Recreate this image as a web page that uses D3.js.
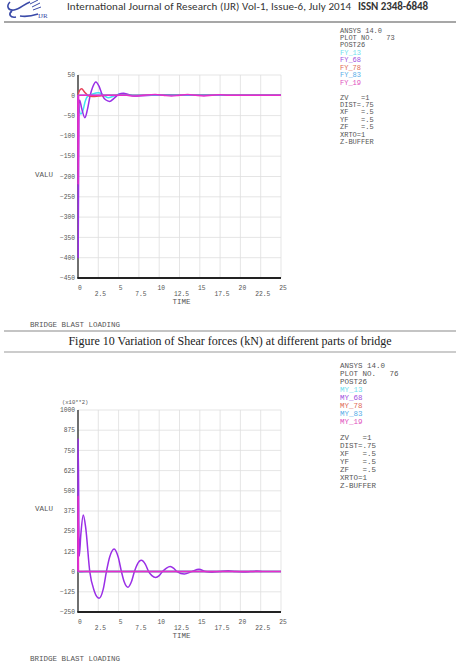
<!DOCTYPE html>
<html>
<head>
<meta charset="utf-8">
<script src="https://cdn.jsdelivr.net/npm/d3@7"></script>
<style>
  body { margin: 0; background: #fff; }
  text { font-family: 'Liberation Mono', monospace; fill: #555; }
</style>
</head>
<body>
<script>
// Tick values
const timeTicks = [0, 2.5, 5, 7.5, 10, 12.5, 15, 17.5, 20, 22.5, 25]
const shearTicks = [50, 0, -50, -100, -150, -200, -250, -300, -350, -400, -450]
const momentTicks = [1000, 875, 750, 625, 500, 375, 250, 125, 0, -125, -250]

const shearNames = ['FY_13', 'FY_68', 'FY_78', 'FY_83', 'FY_19']
const momentNames = ['MY_13', 'MY_68', 'MY_78', 'MY_83', 'MY_19']
const lineColors = ['#3fe3f2', '#9a2ee6', '#e8405a', '#4aa6ee', '#e82ccc']
const labelColors = ['#6fe0ee', '#a050e0', '#e06a58', '#58aee8', '#e050c0']

const infoTop = ['ANSYS 14.0']
const infoBottom = ['', 'ZV   =1', 'DIST=.75', 'XF   =.5', 'YF   =.5', 'ZF   =.5', 'XRTO=1', 'Z-BUFFER']

// Shear force series, [time, value]
const fy13 = [[0, 0], [0.1, -28], [0.35, -46], [0.6, -38], [0.9, -14], [1.2, -2], [1.8, 3], [2.5, 6], [3.1, 1], [3.7, -6], [4.4, -2], [5.3, 4], [6.2, 1], [7, -1], [8, 0], [25, 0]]
const fy68 = [[0, 0], [0.02, -400], [0.12, -14], [0.2, -12], [0.45, -32], [0.85, -55], [1.15, -36], [1.5, 0], [1.8, 20], [2.2, 33], [2.6, 22], [3.0, 0], [3.4, -11], [3.9, -15], [4.4, -8], [5.0, 2], [5.6, 5], [6.2, 2], [7, -2], [8, -1], [9, 0], [10.5, 1], [12, 0], [25, 0]]
const fy78 = [[0, 0], [0.2, 12], [0.45, 16], [0.8, 8], [1.2, 0], [1.8, -3], [2.5, -2], [3.5, 0], [25, 0]]
const fy83 = [[0, 0], [25, 0]]
const fy19 = [[0, 0], [0.02, -220], [0.08, 0], [6, 0], [6.8, -2], [8, 0], [9.5, 2], [10.5, 0], [11.5, -2], [12.5, 0], [13.5, 2], [14.5, 0], [15.5, -1.5], [16.5, 0], [17.5, 1.5], [18.5, 0], [25, 0]]
const shearSeries = [fy13, fy68, fy78, fy83, fy19]

// Bending moment series (x10**2), [time, value]
const my13 = [[0, 0], [0.3, -3], [1, 0], [25, 0]]
const my68 = [[0, 0], [0.02, 823], [0.15, 95], [0.35, 230], [0.65, 350], [0.95, 270], [1.45, 0], [2.0, -120], [2.6, -165], [3.1, -110], [3.5, 0], [3.9, 90], [4.45, 140], [4.95, 90], [5.35, 0], [5.7, -65], [6.15, -97], [6.6, -60], [6.95, 0], [7.3, 45], [7.8, 70], [8.3, 45], [8.7, 0], [9.1, -25], [9.55, -37], [10.0, -25], [10.4, 0], [10.9, 22], [11.35, 31], [11.8, 20], [12.2, 0], [13.1, -15], [14, 0], [14.9, 14], [15.7, 0], [16.5, -4], [17.4, 0], [18.5, 5], [19.4, 0], [20.3, -2], [21.2, 0], [22, 3], [22.6, 1]]
const my78 = [[0, 0], [25, 0]]
const my83 = [[0, 0], [25, 0]]
const my19 = [[0, 0], [0.02, 470], [0.06, 0], [25, 0]]
const momentSeries = [my13, my68, my78, my83, my19]

const width = 460
const height = 662

const svg = d3
  .select('body')
  .append('svg')
  .attr('width', width)
  .attr('height', height)

// Journal header
svg
  .append('text')
  .attr('x', 67)
  .attr('y', 10)
  .attr('textLength', 284)
  .style('font-family', 'Carlito, "Liberation Sans", sans-serif')
  .style('font-size', '11px')
  .style('fill', '#333')
  .text('International Journal of Research (IJR)   Vol-1, Issue-6, July 2014')
svg
  .append('text')
  .attr('x', 358)
  .attr('y', 10)
  .attr('textLength', 70)
  .style('font-family', 'Carlito, "Liberation Sans", sans-serif')
  .style('font-size', '11px')
  .style('font-weight', 'bold')
  .style('fill', '#333')
  .text('ISSN 2348-6848')

// rough logo
const logo = svg.append('g').attr('stroke', '#3a4aa8').attr('fill', 'none').attr('stroke-width', 1.6)
logo.append('path').attr('d', 'M10,2 C6,6 8,11 14,10 C20,9 24,4 30,2')
logo.append('path').attr('d', 'M12,11 C8,14 10,18 16,17')
logo.append('path').attr('d', 'M20,16 C26,17 32,16 38,14')
logo.append('path').attr('d', 'M30,4 L38,0 M32,7 L40,3 M33,10 L41,7').attr('stroke-width', 1)
svg
  .append('text')
  .attr('x', 38)
  .attr('y', 18)
  .style('font-family', '"Liberation Serif", serif')
  .style('font-size', '7px')
  .style('fill', '#3a4aa8')
  .text('IJR')

svg.append('line').attr('x1', 4).attr('x2', 456).attr('y1', 22).attr('y2', 22).attr('stroke', '#8a8a8a').attr('stroke-width', 1.5)

function drawPlot(opts) {
  const g = svg.append('g')
  const x = d3.scaleLinear().domain([0, 25]).range([78, 281])
  const y = d3
    .scaleLinear()
    .domain([opts.ticks[opts.ticks.length - 1], opts.ticks[0]])
    .range([opts.bottom, opts.top])

  // grid
  g.append('g')
    .selectAll('line')
    .data(timeTicks.slice(1))
    .join('line')
    .attr('x1', (d) => x(d))
    .attr('x2', (d) => x(d))
    .attr('y1', opts.top)
    .attr('y2', opts.bottom)
    .attr('stroke', '#dedede')
    .attr('stroke-width', 0.8)
  g.append('g')
    .selectAll('line')
    .data(opts.ticks.slice(0, -1))
    .join('line')
    .attr('x1', x(0))
    .attr('x2', x(25))
    .attr('y1', (d) => y(d))
    .attr('y2', (d) => y(d))
    .attr('stroke', '#dedede')
    .attr('stroke-width', 0.8)

  // y tick labels
  g.append('g')
    .selectAll('text')
    .data(opts.ticks)
    .join('text')
    .attr('x', 75)
    .attr('y', (d) => y(d))
    .attr('dy', '0.35em')
    .attr('text-anchor', 'end')
    .style('font-size', '6.3px')
    .text((d) => d3.format('d')(d))

  // x tick labels on two staggered rows
  g.append('g')
    .selectAll('text')
    .data(timeTicks)
    .join('text')
    .attr('x', (d) => x(d) + 2)
    .attr('y', (d, i) => opts.bottom + (i % 2 ? 18 : 12))
    .attr('text-anchor', 'middle')
    .style('font-size', '6.3px')
    .text((d) => d)

  g.append('text')
    .attr('x', x(12.5) + 2)
    .attr('y', opts.bottom + 26)
    .attr('text-anchor', 'middle')
    .style('font-size', '7.5px')
    .text('TIME')

  g.append('text')
    .attr('x', 35)
    .attr('y', opts.valuY)
    .style('font-size', '7.5px')
    .text('VALU')

  if (opts.scaleNote) {
    g.append('text')
      .attr('x', 62)
      .attr('y', opts.top - 6)
      .style('font-size', '5.5px')
      .text(opts.scaleNote)
  }

  // axis lines
  g.append('line')
    .attr('x1', x(0))
    .attr('x2', x(0))
    .attr('y1', opts.top)
    .attr('y2', opts.bottom)
    .attr('stroke', '#333')
    .attr('stroke-width', 1.4)
  g.append('line')
    .attr('x1', x(0) - 0.7)
    .attr('x2', x(25))
    .attr('y1', opts.bottom)
    .attr('y2', opts.bottom)
    .attr('stroke', '#222')
    .attr('stroke-width', 2)

  // curves, drawn in the ANSYS order so the last one sits on top
  const line = d3
    .line()
    .x((d) => x(d[0]))
    .y((d) => y(d[1]))
    .curve(d3.curveMonotoneX)

  g.append('g')
    .selectAll('path')
    .data(opts.series)
    .join('path')
    .attr('d', line)
    .attr('fill', 'none')
    .attr('stroke', (d, i) => lineColors[i])
    .attr('stroke-width', 1.5)

  // info block on the right
  const info = g.append('g').style('font-size', opts.infoSize + 'px')
  const lines = [
    ...infoTop.map((t) => ({ t, c: '#555' })),
    { t: 'PLOT NO.   ' + opts.plotNo, c: '#555' },
    { t: 'POST26', c: '#555' },
    ...opts.names.map((t, i) => ({ t, c: labelColors[i] })),
    ...infoBottom.map((t) => ({ t, c: '#555' })),
  ]
  info
    .selectAll('text')
    .data(lines)
    .join('text')
    .attr('x', 340)
    .attr('y', (d, i) => opts.infoY + i * opts.infoStep)
    .attr('xml:space', 'preserve')
    .style('white-space', 'pre')
    .style('fill', (d) => d.c)
    .text((d) => d.t)

  g.append('text')
    .attr('x', 30)
    .attr('y', opts.footY)
    .style('font-size', '7.5px')
    .text('BRIDGE BLAST LOADING')
}

drawPlot({
  ticks: shearTicks,
  series: shearSeries,
  names: shearNames,
  plotNo: 73,
  top: 75,
  bottom: 278,
  valuY: 177,
  infoY: 32.5,
  infoStep: 7.45,
  infoSize: 7,
  footY: 327,
})

// figure caption between the two plots
svg.append('line').attr('x1', 4).attr('x2', 456).attr('y1', 331).attr('y2', 331).attr('stroke', '#8a8a8a').attr('stroke-width', 1.2)
svg
  .append('text')
  .attr('x', 230)
  .attr('y', 344.5)
  .attr('text-anchor', 'middle')
  .style('font-family', '"Liberation Serif", serif')
  .style('font-size', '12px')
  .style('fill', '#222')
  .text('Figure 10 Variation of Shear forces (kN) at different parts of bridge')
svg.append('line').attr('x1', 4).attr('x2', 456).attr('y1', 352).attr('y2', 352).attr('stroke', '#bbb').attr('stroke-width', 1.5)

drawPlot({
  ticks: momentTicks,
  series: momentSeries,
  names: momentNames,
  plotNo: 76,
  top: 410,
  bottom: 612,
  valuY: 511,
  infoY: 367.5,
  infoStep: 8,
  infoSize: 7.5,
  footY: 661,
  scaleNote: '(x10**2)',
})
</script>
</body>
</html>
